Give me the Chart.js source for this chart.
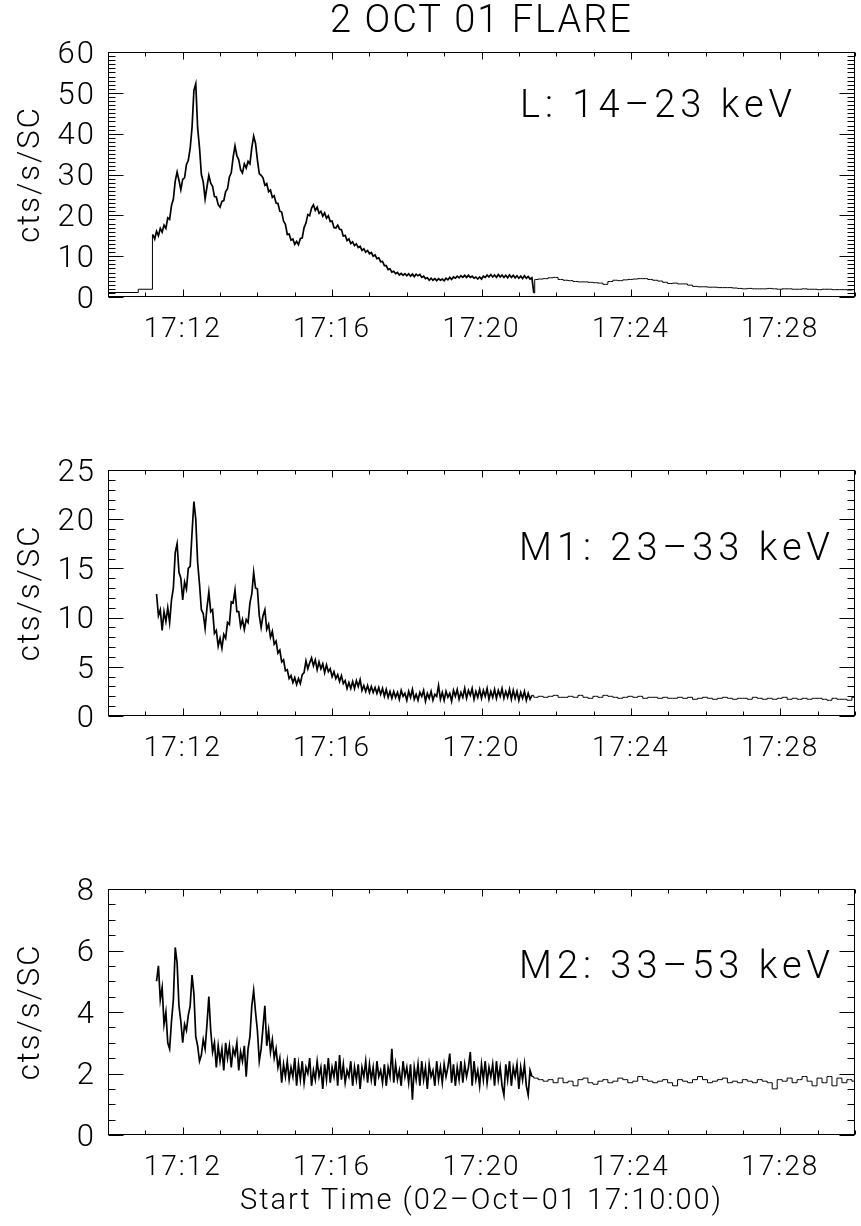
<!DOCTYPE html>
<html>
<head>
<meta charset="utf-8">
<script src="https://cdn.jsdelivr.net/npm/chart.js@4"></script>
<style>
  html, body { margin: 0; background: #fff; }
  body { width: 861px; height: 1226px; position: relative; overflow: hidden; }
  .panel { position: absolute; left: 0; width: 861px; height: 389px; }
</style>
</head>
<body>
<div class="panel" style="top:0"><canvas id="chartL"></canvas></div>
<div class="panel" style="top:418px"><canvas id="chartM1"></canvas></div>
<div class="panel" style="top:837px"><canvas id="chartM2"></canvas></div>
<script>
// time axis is minutes after 17:10:00
const xTickMinutes = [2, 6, 10, 14, 18];
const hiStep = 0.05;      // 3 s bins during the flare
const loStep = 8 / 60;    // 8 s bins after the data gap
const loStart = 11.45;

// L: 14-23 keV
const preL_t = [0, 0.81, 1.19];
const preL = [1.1, 1.9, 15.3];
const hiL_start = 1.2;
const hiL = [
  15.3, 14.2, 16.1, 15.0, 16.8, 15.9, 17.6, 16.8, 19.4, 19.0,
  22.4, 24.0, 28.4, 30.6, 28.6, 26.3, 28.8, 29.2, 32.4, 33.5,
  36.4, 41.5, 50.6, 52.2, 41.4, 36.6, 30.0, 28.2, 24.0, 27.0,
  29.8, 27.9, 27.1, 24.6, 24.5, 22.6, 22.0, 23.4, 23.6, 25.8,
  26.5, 29.4, 30.4, 34.2, 37.0, 34.6, 33.6, 31.2, 30.4, 32.6,
  31.6, 33.2, 32.6, 36.6, 39.4, 37.6, 33.6, 30.2, 29.8, 29.2,
  27.4, 27.8, 25.8, 26.2, 24.4, 24.8, 23.0, 22.9, 21.0, 20.8,
  18.6, 17.8, 15.3, 15.4, 13.9, 14.2, 12.9, 13.6, 12.8, 14.3,
  14.5, 17.0, 18.1, 20.2, 19.9, 21.8, 22.6, 21.2, 22.0, 20.5,
  21.0, 19.8, 20.6, 19.3, 19.9, 18.5, 18.6, 17.0, 16.9, 17.6,
  16.6, 16.5, 14.9, 15.1, 13.8, 14.2, 13.1, 13.5, 12.6, 13.0,
  12.1, 12.4, 11.4, 11.8, 11.0, 11.4, 10.6, 10.9, 10.0, 10.3,
  9.4, 9.6, 8.6, 8.7, 7.7, 7.7, 6.7, 6.9, 6.1, 6.3,
  5.7, 6.0, 5.4, 5.8, 5.3, 5.7, 5.2, 5.7, 5.1, 5.6,
  5.0, 5.6, 5.2, 5.5, 4.8, 5.1, 4.5, 4.7, 4.1, 4.6,
  4.1, 4.5, 4.0, 4.5, 4.1, 4.4, 4.0, 4.6, 4.2, 4.8,
  4.3, 4.9, 4.6, 5.1, 4.7, 5.2, 4.8, 5.3, 4.8, 5.3,
  4.8, 5.1, 4.6, 4.9, 4.4, 4.9, 4.4, 5.1, 4.8, 5.4,
  4.9, 5.5, 4.9, 5.4, 4.8, 5.5, 4.9, 5.4, 4.8, 5.3,
  4.7, 5.4, 4.8, 5.3, 4.7, 5.2, 4.6, 5.1, 4.5, 5.2,
  4.6, 5.0, 4.4, 4.7, 1.0
];
const loL = [
  4.3, 4.4, 4.5, 4.7, 4.8, 4.3, 4.1, 4.0, 3.8, 3.7,
  3.7, 3.6, 3.5, 3.4, 3.1, 3.8, 4.1, 4.0, 4.2, 4.3,
  4.4, 4.5, 4.5, 4.3, 4.1, 3.9, 3.6, 3.3, 3.4, 3.2,
  3.2, 2.9, 2.6, 2.5, 2.5, 2.4, 2.4, 2.3, 2.3, 2.3,
  2.2, 2.1, 2.0, 2.1, 2.0, 2.0, 2.0, 2.1, 2.0, 1.9,
  2.0, 2.0, 1.9, 1.9, 2.0, 1.9, 1.9, 1.8, 1.9, 1.9,
  1.8, 1.8, 1.8, 1.7, 1.8
];

// M1: 23-33 keV
const hiM1_start = 1.3;
const hiM1 = [
  12.4, 10.2, 10.8, 8.7, 10.6, 9.6, 11.0, 9.5, 11.8, 13.0,
  16.6, 17.5, 14.6, 14.0, 11.8, 13.6, 12.9, 15.0, 15.2, 18.6,
  21.8, 20.0, 15.6, 13.4, 10.8, 10.4, 8.9, 11.0, 12.6, 10.6,
  10.8, 8.4, 8.7, 7.1, 7.9, 6.9, 8.3, 7.9, 9.5, 9.3,
  11.6, 11.5, 12.8, 10.6, 10.6, 9.1, 9.8, 8.8, 9.8, 9.5,
  11.5, 12.4, 14.6, 13.0, 12.9, 10.2, 9.0, 10.2, 10.8, 8.8,
  9.3, 8.0, 8.6, 7.3, 7.6, 6.4, 6.7, 5.5, 5.7, 4.6,
  4.7, 3.8, 4.1, 3.4, 3.9, 3.2, 3.8, 3.3, 4.2, 4.4,
  5.6, 4.8, 5.4, 5.9, 5.1, 5.7, 4.7, 5.5, 4.8, 5.3,
  4.4, 5.2, 4.5, 4.8, 4.0, 4.5, 3.8, 4.2, 3.5, 4.1,
  3.3, 3.6, 2.8, 3.4, 2.8, 3.5, 2.8, 3.6, 3.0, 3.7,
  2.6, 3.1, 2.5, 3.1, 2.4, 3.0, 2.4, 2.9, 2.3, 2.9,
  2.2, 2.8, 2.0, 2.7, 1.9, 2.5,
  1.8, 2.5, 1.9, 2.4, 1.7, 2.6, 2.0, 2.3, 1.6, 2.5,
  1.9, 2.7, 1.7, 2.2, 1.6, 2.4, 2.0, 2.6, 1.5, 2.3,
  1.8, 2.5, 1.6, 2.2, 2.0, 3.1, 1.7, 2.4, 1.6, 2.5,
  1.9, 2.3, 1.5, 2.6, 2.0, 2.7, 1.7, 2.4, 1.9, 2.8,
  1.8, 2.6, 2.1, 2.8, 1.7, 2.5, 1.9, 2.7, 1.8, 2.6,
  2.0, 2.8, 1.7, 2.5, 1.9, 2.7, 1.8, 2.6, 2.0, 2.8,
  1.8, 2.5, 1.9, 2.7, 1.7, 2.6, 1.8, 2.5, 1.6, 2.4,
  1.8, 2.5, 1.6, 2.3, 1.7, 2.1
];
const loM1 = [
  1.9, 2.0, 1.9, 2.0, 2.1, 1.9, 1.9, 2.0, 1.9, 2.1,
  1.9, 1.8, 2.0, 1.9, 2.1, 2.0, 1.9, 1.8, 1.9, 2.0,
  1.9, 2.0, 1.8, 1.9, 1.9, 1.8, 1.9, 1.8, 1.8, 1.9,
  1.8, 1.9, 1.7, 1.8, 1.9, 1.8, 1.7, 1.8, 1.9, 1.8,
  1.7, 1.8, 1.8, 1.7, 1.9, 1.8, 1.7, 1.8, 1.7, 1.8,
  1.9, 1.7, 1.8, 1.7, 1.8, 1.7, 1.8, 1.8, 1.7, 1.6,
  1.8, 1.7, 1.7, 1.6, 1.9
];

// M2: 33-53 keV
const hiM2_start = 1.3;
const hiM2 = [
  5.0, 5.5, 4.4, 4.8, 3.6, 4.0, 3.0, 2.8, 3.7, 4.4,
  6.1, 5.6, 4.2, 3.7, 3.0, 3.6, 3.4, 3.9, 4.2, 5.2,
  4.6, 3.2, 2.9, 2.4, 2.6, 3.1, 2.8, 3.6, 4.5, 3.4,
  2.7, 3.0, 2.2, 2.9, 2.4, 2.8, 2.1, 3.0, 2.5, 2.9,
  2.2, 2.8, 2.6, 3.0, 2.1, 2.7, 2.4, 2.9, 1.9, 2.8,
  3.2, 4.2, 4.7, 4.0, 3.4, 2.4, 2.8, 3.5, 4.2, 2.9,
  3.4, 2.7, 3.1, 2.5, 2.8, 2.2, 2.5, 1.7, 2.3, 1.9,
  2.4, 1.8, 2.2, 1.9, 2.5,
  1.6, 2.3, 1.8, 2.4, 1.7, 2.2, 2.0, 2.5, 1.6, 2.1,
  1.8, 2.4, 1.9, 2.2, 1.5, 2.3, 1.8, 2.5, 1.7, 2.2,
  1.9, 2.4, 1.6, 2.6, 1.8, 2.3, 1.7, 2.1, 1.9, 2.4,
  1.6, 2.2, 1.8, 2.3, 1.5, 2.2, 1.9, 2.4, 1.7, 2.3,
  1.8, 2.2, 1.6, 2.4, 1.9, 2.1, 1.7, 2.3, 1.6, 2.2,
  1.9, 2.8, 1.7, 2.3, 1.8, 2.1, 1.6, 2.4, 1.9, 2.2,
  1.7, 2.3, 1.15, 2.2, 1.8, 2.3, 1.6, 2.4, 1.8, 2.2,
  1.5, 2.3, 1.9, 2.1, 1.6, 2.4, 1.8, 2.2, 1.7, 2.3,
  1.9, 2.2, 2.65, 1.7, 2.3, 1.6, 2.2, 1.8, 2.4, 1.7,
  2.3, 1.9, 2.2, 2.7, 1.6, 2.4, 1.8, 2.1, 1.6, 2.3,
  1.8, 2.4, 1.7, 2.2, 1.9, 2.3, 1.6, 2.4, 1.8, 2.2,
  1.6, 1.3, 2.3, 1.8, 2.4, 1.6, 2.2, 1.9, 2.3, 1.5,
  2.2, 1.8, 2.3, 1.6, 1.3, 2.1, 1.9
];
const loM2 = [
  1.85, 1.8, 1.75, 1.8, 1.7, 1.85, 1.7, 1.75, 1.6, 1.8,
  1.85, 1.7, 1.65, 1.75, 1.8, 1.7, 1.75, 1.85, 1.8, 1.7,
  1.75, 1.9, 1.8, 1.75, 1.7, 1.75, 1.8, 1.7, 1.6, 1.8,
  1.75, 1.7, 1.8, 1.9, 1.8, 1.7, 1.75, 1.8, 1.85, 1.7,
  1.75, 1.7, 1.8, 1.75, 1.7, 1.8, 1.75, 1.7, 1.5, 1.8,
  1.75, 1.85, 1.7, 1.8, 1.9, 1.75, 1.6, 1.85, 1.7, 1.9,
  1.6, 1.85, 1.7, 1.8, 1.75
];

Chart.defaults.font.family = "Roboto, 'DejaVu Sans', sans-serif";
Chart.defaults.font.weight = '300';
Chart.defaults.color = '#000';

function binned(start, step, vals) {
  return vals.map((v, i) => ({ x: start + i * step, y: v }));
}
function pairs(ts, vals) {
  return ts.map((t, i) => ({ x: t, y: vals[i] }));
}

// IDL style box with inward ticks on all four sides, plus the band label
const idlFrame = {
  id: 'idlFrame',
  beforeDraw(chart) { chart.ctx.letterSpacing = '2px'; },
  afterDatasetsDraw(chart, args, o) {
    const { ctx, chartArea: a, scales: { x, y } } = chart;
    ctx.save();
    ctx.strokeStyle = '#000';
    ctx.lineWidth = 1;
    const L = Math.round(a.left) + 0.5, R = Math.round(a.right) - 0.5;
    const T = Math.round(a.top) + 0.5, B = Math.round(a.bottom) - 0.5;
    ctx.strokeRect(L, T, R - L, B - T);
    ctx.beginPath();
    for (let m = x.min; m <= x.max; m++) {
      const px = Math.round(x.getPixelForValue(m)) + 0.5;
      const len = xTickMinutes.includes(m) ? 7 : 4;
      ctx.moveTo(px, B); ctx.lineTo(px, B - len);
      ctx.moveTo(px, T); ctx.lineTo(px, T + len);
    }
    const n = Math.round((y.max - y.min) / o.minor);
    for (let i = 0; i <= n; i++) {
      const py = Math.round(y.getPixelForValue(y.min + i * o.minor)) + 0.5;
      const len = i % o.per === 0 ? 15 : 7;
      ctx.moveTo(L, py); ctx.lineTo(L + len, py);
      ctx.moveTo(R, py); ctx.lineTo(R - len, py);
    }
    ctx.stroke();
    ctx.fillStyle = '#000';
    ctx.font = "300 38px Roboto, 'DejaVu Sans', sans-serif";
    ctx.letterSpacing = '5px';
    ctx.textAlign = 'right';
    ctx.textBaseline = 'middle';
    ctx.fillText(o.label, a.right - o.dx, a.top + o.dy);
    ctx.restore();
  }
};

function makePanel(id, p) {
  const hiPts = binned(p.hiStart, hiStep, p.hi);
  const loPts = binned(loStart, loStep, p.lo);
  const datasets = [];
  if (p.pre) {
    datasets.push({ data: pairs(p.pre[0], p.pre[1]), stepped: 'before', borderColor: '#000', borderWidth: 1, pointRadius: 0 });
  }
  // fast-cadence part: dense jagged trace
  datasets.push({ data: hiPts, stepped: false, borderColor: '#000', borderWidth: 1.7, pointRadius: 0 });
  // slow-cadence part: histogram steps, joined to the last fast bin
  datasets.push({ data: hiPts.slice(-1).concat(loPts), stepped: 'middle', borderColor: '#000', borderWidth: 1, pointRadius: 0 });
  return new Chart(document.getElementById(id), {
    type: 'line',
    data: { datasets },
    options: {
      responsive: true,
      maintainAspectRatio: false,
      animation: false,
      layout: { padding: { top: p.title ? 0 : 52, right: 6, left: 0, bottom: 0 } },
      plugins: {
        legend: { display: false },
        tooltip: { enabled: false },
        title: p.title ? { display: true, text: p.title, fullSize: false, font: { size: 38, weight: '300' }, padding: { top: 0, bottom: 6.4 } } : { display: false },
        idlFrame: { label: p.label, dx: p.dx, dy: p.dy, minor: p.minor, per: p.per }
      },
      scales: {
        x: {
          type: 'linear', min: 0, max: 20,
          afterBuildTicks: s => { s.ticks = xTickMinutes.map(v => ({ value: v })); },
          afterFit: s => { s.height = p.xHeight; },
          grid: { display: false, drawTicks: false },
          border: { display: false },
          ticks: {
            callback: v => '17:' + String(10 + v).padStart(2, '0'),
            font: { size: 28 }, padding: 16, maxRotation: 0, autoSkip: false
          },
          title: p.xTitle ? { display: true, text: p.xTitle, font: { size: 29 }, padding: { top: 0, bottom: 7 } } : { display: false }
        },
        y: {
          min: 0, max: p.yMax,
          afterFit: s => { s.width = 108; },
          grid: { display: false, drawTicks: false },
          border: { display: false },
          ticks: { stepSize: p.yStep, font: { size: 31 }, padding: 12, labelOffset: 3, autoSkip: false },
          title: { display: true, text: 'cts/s/SC', font: { size: 31 }, padding: { top: 13, bottom: 0 } }
        }
      }
    },
    plugins: [idlFrame]
  });
}

makePanel('chartL', {
  title: '2 OCT 01 FLARE', label: 'L: 14\u201323 keV', dx: 58, dy: 55,
  pre: [preL_t, preL], hiStart: hiL_start, hi: hiL, lo: loL,
  yMax: 60, yStep: 10, minor: 1, per: 10, xHeight: 92
});
makePanel('chartM1', {
  label: 'M1: 23\u201333 keV', dx: 20, dy: 80,
  hiStart: hiM1_start, hi: hiM1, lo: loM1,
  yMax: 25, yStep: 5, minor: 1, per: 5, xHeight: 91
});
makePanel('chartM2', {
  label: 'M2: 33\u201353 keV', dx: 20, dy: 79,
  hiStart: hiM2_start, hi: hiM2, lo: loM2,
  yMax: 8, yStep: 2, minor: 0.5, per: 4, xHeight: 91,
  xTitle: 'Start Time (02\u2013Oct\u201301 17:10:00)'
});
</script>
</body>
</html>
